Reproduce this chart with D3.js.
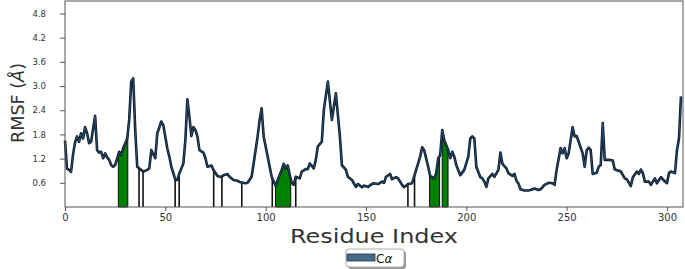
<!DOCTYPE html>
<html>
<head>
<meta charset="utf-8">
<script src="https://cdn.jsdelivr.net/npm/d3@7"></script>
<style>
  body { margin: 0; background: #fff; }
  svg { display: block; }
  text { font-family: "DejaVu Sans", sans-serif; }
</style>
</head>
<body>
<div class="chart-container"></div>
<script>
var w = 685;
var h = 269;

// residue index and RMSF values
var residues = [0, 1, 2, 3, 4, 5, 6, 7, 8, 9,
    10, 11, 12, 13, 15, 16, 17, 18, 19, 20,
    21, 22, 23, 24, 25, 27, 28, 29, 31, 32,
    33, 34, 35, 36, 38, 39, 41, 42, 43, 45,
    46, 48, 49, 51, 52, 53, 55, 56, 57, 59,
    60, 61, 62, 63, 64, 65, 66, 67, 69, 70,
    71, 73, 74, 76, 78, 79, 81, 82, 84, 86,
    87, 90, 91, 93, 94, 96, 97, 98, 99, 101,
    102, 103, 105, 106, 108, 109, 110, 111, 112, 113,
    114, 115, 117, 118, 120, 121, 122, 124, 125, 126,
    128, 129, 131, 133, 135, 137, 138, 140, 141, 143,
    145, 146, 148, 149, 151, 153, 154, 156, 158, 159,
    160, 162, 163, 165, 166, 168, 169, 171, 173, 175,
    177, 178, 179, 181, 182, 184, 185, 186, 187, 188,
    189, 191, 192, 193, 194, 195, 197, 199, 201, 202,
    203, 204, 205, 207, 208, 209, 210, 211, 213, 214,
    216, 217, 218, 220, 221, 223, 224, 225, 226, 227,
    229, 231, 232, 234, 236, 237, 239, 241, 243, 244,
    245, 247, 248, 249, 250, 251, 253, 254, 255, 256,
    258, 259, 260, 261, 262, 263, 265, 266, 267, 268,
    269, 271, 273, 274, 276, 277, 279, 280, 282, 283,
    285, 286, 287, 288, 289, 291, 292, 294, 295, 296,
    297, 299, 300, 301, 302, 304, 305, 306, 307];

var rmsf = [1.65, 0.95, 0.92, 0.87, 1.30, 1.60, 1.75, 1.62, 1.83, 1.70,
    1.98, 1.83, 1.58, 1.62, 2.26, 1.41, 1.35, 1.37, 1.21, 1.33,
    1.23, 1.17, 1.04, 1.00, 1.04, 1.37, 1.29, 1.46, 1.70, 2.16,
    3.11, 3.19, 1.91, 1.00, 0.92, 0.88, 0.92, 0.96, 1.41, 1.21,
    1.83, 2.12, 2.03, 1.45, 1.25, 1.00, 0.67, 0.67, 0.84, 1.08,
    1.66, 2.67, 2.24, 1.76, 1.98, 1.91, 1.75, 1.41, 1.35, 1.21,
    1.00, 1.03, 0.92, 0.77, 0.74, 0.79, 0.82, 0.75, 0.67, 0.65,
    0.62, 0.59, 0.60, 0.75, 1.08, 1.75, 2.16, 2.45, 1.75, 1.25,
    1.00, 0.75, 0.52, 0.67, 0.92, 1.07, 0.96, 1.03, 0.80, 0.60,
    0.55, 0.75, 0.71, 0.88, 0.94, 0.94, 1.08, 0.96, 1.17, 1.50,
    1.62, 2.41, 3.11, 2.16, 2.82, 1.75, 1.04, 0.92, 0.75, 0.67,
    0.50, 0.57, 0.49, 0.53, 0.50, 0.57, 0.59, 0.57, 0.63, 0.60,
    0.75, 0.82, 0.69, 0.74, 0.71, 0.55, 0.49, 0.57, 0.59, 0.92,
    1.25, 1.48, 1.41, 1.00, 0.77, 0.71, 0.84, 1.21, 1.29, 1.91,
    1.66, 1.41, 1.21, 1.37, 1.25, 1.04, 0.79, 0.92, 1.25, 1.70,
    1.75, 1.70, 1.00, 0.74, 0.71, 0.63, 0.50, 0.71, 0.82, 0.75,
    0.92, 1.35, 1.07, 0.96, 0.84, 0.77, 0.82, 0.65, 0.58, 0.44,
    0.41, 0.41, 0.42, 0.46, 0.42, 0.44, 0.55, 0.60, 0.59, 0.55,
    0.92, 1.46, 1.33, 1.46, 1.21, 1.33, 1.98, 1.75, 1.76, 1.62,
    1.33, 1.00, 1.41, 1.47, 1.41, 0.82, 0.85, 1.00, 1.04, 2.08,
    1.17, 1.17, 1.15, 0.93, 0.90, 0.88, 0.71, 0.69, 0.52, 0.74,
    0.88, 0.82, 0.93, 0.84, 0.63, 0.63, 0.55, 0.71, 0.59, 0.67,
    0.74, 0.63, 0.59, 0.84, 0.88, 0.84, 1.41, 1.70, 2.74];

// highlighted residue ranges (green) and single marked residues
var greenRanges = [[26.6, 31.3], [104.9, 112.5], [181.7, 186.7], [188.0, 190.9]];
var markLines = [36.9, 38.9, 54.9, 56.9, 74.1, 78.2, 88.1, 103.3, 115.0, 170.9, 174.2];

var xTicks = [0, 50, 100, 150, 200, 250, 300];
var yTicks = [0.6, 1.2, 1.8, 2.4, 3.0, 3.6, 4.2, 4.8];

var data = residues.map(function(r, i) { return [r, rmsf[i]]; });

var plotLeft = 65, plotRight = 683, plotTop = 1, plotBottom = 207;

var xScale = d3.scaleLinear().domain([0, 308]).range([plotLeft, plotRight]);
var yScale = d3.scaleLinear().domain([0, 5.11]).range([plotBottom, plotTop]);

// value of the drawn curve at any residue position
function valueAt(x) {
    var i = d3.bisectRight(residues, x);
    if (i <= 0) return rmsf[0];
    if (i >= residues.length) return rmsf[rmsf.length - 1];
    var x0 = residues[i - 1], x1 = residues[i];
    var t = (x - x0) / (x1 - x0);
    return rmsf[i - 1] + t * (rmsf[i] - rmsf[i - 1]);
}

var svg = d3.select(".chart-container")
    .append("svg")
    .attr("width", w)
    .attr("height", h);

var area = d3.area()
    .x(function(d) { return xScale(d[0]); })
    .y0(yScale(0))
    .y1(function(d) { return yScale(d[1]); });

// green fills
greenRanges.forEach(function(g) {
    var pts = [[g[0], valueAt(g[0])]];
    data.forEach(function(d) {
        if (d[0] > g[0] && d[0] < g[1]) pts.push(d);
    });
    pts.push([g[1], valueAt(g[1])]);
    svg.append("path")
        .attr("d", area(pts))
        .attr("fill", "#008000")
        .attr("stroke", "#111")
        .attr("stroke-width", 1);
});

// black marker lines
svg.selectAll("line.mark")
    .data(markLines)
    .enter()
    .append("line")
    .attr("class", "mark")
    .attr("x1", function(d) { return xScale(d); })
    .attr("x2", function(d) { return xScale(d); })
    .attr("y1", yScale(0))
    .attr("y2", function(d) { return yScale(valueAt(d)); })
    .attr("stroke", "#111")
    .attr("stroke-width", 1.6);

var line = d3.line()
    .x(function(d) { return xScale(d[0]); })
    .y(function(d) { return yScale(d[1]); });

svg.append("path")
    .attr("d", line(data))
    .attr("fill", "none")
    .attr("stroke", "#0b1624")
    .attr("stroke-width", 2.6)
    .attr("stroke-linejoin", "round");

svg.append("path")
    .attr("d", line(data))
    .attr("fill", "none")
    .attr("stroke", "#2f6690")
    .attr("stroke-width", 0.9)
    .attr("stroke-opacity", 0.8)
    .attr("stroke-linejoin", "round");

// frame
svg.append("rect")
    .attr("x", plotLeft)
    .attr("y", plotTop)
    .attr("width", plotRight - plotLeft)
    .attr("height", plotBottom - plotTop)
    .attr("fill", "none")
    .attr("stroke", "#555")
    .attr("stroke-width", 1);

// axes
var xAxis = d3.axisBottom(xScale).tickValues(xTicks).tickSize(4).tickSizeOuter(0);
var gx = svg.append("g")
    .attr("transform", "translate(0," + plotBottom + ")")
    .call(xAxis);
gx.select(".domain").remove();
gx.selectAll("line").attr("stroke", "#555");
gx.selectAll("text")
    .attr("fill", "#333")
    .attr("font-size", 10)
    .attr("dy", "0.71em");

var yAxis = d3.axisLeft(yScale).tickValues(yTicks).tickSize(5).tickSizeOuter(0)
    .tickFormat(d3.format(".1f"));
var gy = svg.append("g")
    .attr("transform", "translate(" + plotLeft + ",0)")
    .call(yAxis);
gy.select(".domain").remove();
gy.selectAll("line").attr("stroke", "#555");
gy.selectAll("text")
    .attr("fill", "#333")
    .attr("font-size", 8.5)
    .attr("x", -19);

// axis titles
svg.append("text")
    .attr("x", (plotLeft + plotRight) / 2)
    .attr("y", 243)
    .attr("text-anchor", "middle")
    .attr("font-size", 20)
    .attr("fill", "#333")
    .attr("textLength", 168)
    .attr("lengthAdjust", "spacingAndGlyphs")
    .text("Residue Index");

var yl = svg.append("text")
    .attr("transform", "translate(24,103) rotate(-90)")
    .attr("text-anchor", "middle")
    .attr("font-size", 18)
    .attr("fill", "#333")
    .attr("textLength", 80)
    .attr("lengthAdjust", "spacingAndGlyphs");
yl.append("tspan").text("RMSF (");
yl.append("tspan").attr("font-style", "italic").text("Å");
yl.append("tspan").text(")");

// legend
var lg = svg.append("g").attr("transform", "translate(346,249)");
lg.append("rect")
    .attr("x", 2).attr("y", 2)
    .attr("width", 58).attr("height", 18)
    .attr("rx", 3)
    .attr("fill", "#999");
lg.append("rect")
    .attr("x", 0).attr("y", 0)
    .attr("width", 58).attr("height", 18)
    .attr("rx", 3)
    .attr("fill", "#fff")
    .attr("stroke", "#aaa")
    .attr("stroke-width", 1);
lg.append("rect")
    .attr("x", 1).attr("y", 5)
    .attr("width", 28).attr("height", 7)
    .attr("fill", "#456b8b")
    .attr("stroke", "#1d3347")
    .attr("stroke-width", 0.8);
var lt = lg.append("text")
    .attr("x", 30)
    .attr("y", 13.5)
    .attr("font-size", 12)
    .attr("fill", "#111");
lt.append("tspan").text("C");
lt.append("tspan").attr("font-style", "italic").text("α");
</script>
</body>
</html>
